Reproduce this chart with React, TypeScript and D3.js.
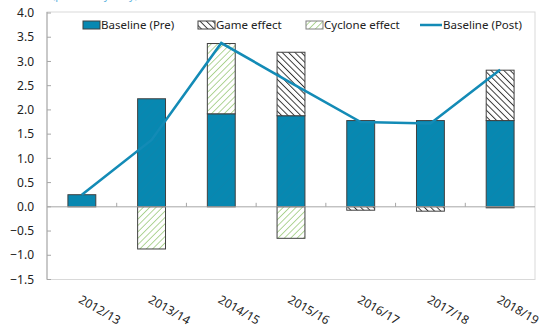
import React from "react";
import * as d3 from "d3";

const categories = ["2012/13", "2013/14", "2014/15", "2015/16", "2016/17", "2017/18", "2018/19"];
const baselinePre = [0.25, 2.23, 1.92, 1.88, 1.78, 1.78, 1.78];
const gameEffect = [0, 0, 0, 1.31, -0.07, -0.09, 1.04];
const cycloneEffect = [0, -0.87, 1.45, -0.65, 0, 0, -0.01];
const baselinePost = [0.25, 1.38, 3.38, 2.56, 1.75, 1.72, 2.83];
const yTicks = [-1.5, -1.0, -0.5, 0, 0.5, 1.0, 1.5, 2.0, 2.5, 3.0, 3.5, 4.0];

const W = 547;
const H = 327;
const left = 47;
const right = 535;
const top = 13;
const bottom = 279.5;
const FONT = "'Noto Sans', 'Open Sans', sans-serif";
const BLUE = "#0788b1";
const LINE = "#138bb6";

type Seg = { key: string; i: number; y0: number; y1: number };

export default function App() {
  const x = d3.scaleBand<string>().domain(categories).range([left, right]).paddingInner(0.6).paddingOuter(0.3);
  const xb = d3.scaleBand<string>().domain(categories).range([left, right]);
  const y = d3.scaleLinear().domain([-1.5, 4]).range([bottom, top]);

  // stack positive values upward, negative values downward
  const segs: Seg[] = [];
  categories.forEach((_, i) => {
    let pos = 0;
    let neg = 0;
    const parts: [string, number][] = [
      ["base", baselinePre[i]],
      ["game", gameEffect[i]],
      ["cyclone", cycloneEffect[i]],
    ];
    parts.forEach(([key, v]) => {
      if (v === 0) return;
      if (v > 0) {
        segs.push({ key, i, y0: pos, y1: pos + v });
        pos += v;
      } else {
        segs.push({ key, i, y0: neg, y1: neg + v });
        neg += v;
      }
    });
  });

  const fillFor = (k: string) =>
    k === "base" ? "url(#basePat)" : k === "game" ? "url(#gamePat)" : "url(#cyclonePat)";

  const line = d3
    .line<number>()
    .x((_, i) => (xb(categories[i]) as number) + xb.bandwidth() / 2)
    .y((d) => y(d));

  const legendY = 25;

  return (
    <svg width={W} height={H} style={{ position: "absolute", left: 0, top: 0 }} fontFamily={FONT}>
      <defs>
        <pattern id="basePat" patternUnits="userSpaceOnUse" width="6" height="6" patternTransform="rotate(45)">
          <rect width="6" height="6" fill={BLUE} />
          <line x1="0" y1="0" x2="0" y2="6" stroke="#1a7fa3" strokeWidth="1.5" opacity="0.3" />
        </pattern>
        <pattern id="gamePat" patternUnits="userSpaceOnUse" width="4.5" height="4.5" patternTransform="rotate(-45)">
          <rect width="4.5" height="4.5" fill="#fff" />
          <line x1="0" y1="0" x2="0" y2="4.5" stroke="#333" strokeWidth="1.9" />
        </pattern>
        <pattern id="cyclonePat" patternUnits="userSpaceOnUse" width="4.5" height="4.5" patternTransform="rotate(45)">
          <rect width="4.5" height="4.5" fill="#fff" />
          <line x1="0" y1="0" x2="0" y2="4.5" stroke="#a9d18e" strokeWidth="1.8" />
        </pattern>
      </defs>

      {/* unit caption, mostly above the visible area */}
      <text x={52} y={-1} fontSize={11} fill="#5fb4e0">(per cent, yearly)</text>

      {/* plot frame */}
      <rect x={left} y={top - 1} width={right - left} height={bottom - top + 1} fill="none" stroke="#d9d9d9" strokeWidth={1} />
      <line x1={left} x2={left} y1={top - 1} y2={bottom} stroke="#a6a6a6" />

      {/* y axis ticks and labels */}
      {yTicks.map((t) => (
        <g key={t}>
          <line x1={left} x2={left + 4} y1={y(t)} y2={y(t)} stroke="#a6a6a6" />
          <text x={34} y={y(t)} dy="0.35em" textAnchor="end" fontSize={12} fill="#222">
            {d3.format(".1f")(t)}
          </text>
        </g>
      ))}

      {/* bars */}
      {segs.map((s, j) => {
        const x0 = x(categories[s.i]) as number;
        const yt = y(Math.max(s.y0, s.y1));
        const yb = y(Math.min(s.y0, s.y1));
        return (
          <rect
            key={j}
            x={x0}
            y={yt}
            width={x.bandwidth()}
            height={Math.max(yb - yt, 1)}
            fill={fillFor(s.key)}
            stroke="#404040"
            strokeWidth={1}
          />
        );
      })}

      {/* zero axis with category ticks */}
      <line x1={left} x2={right} y1={y(0)} y2={y(0)} stroke="#a6a6a6" />
      {categories.slice(1).map((c) => (
        <line key={c} x1={xb(c)} x2={xb(c)} y1={y(0)} y2={y(0) - 4} stroke="#a6a6a6" />
      ))}

      {/* post line */}
      <path d={line(baselinePost) || ""} fill="none" stroke={LINE} strokeWidth={2.6} />

      {/* category labels */}
      {categories.map((c) => {
        const cx = (xb(c) as number) + xb.bandwidth() / 2 - 4;
        return (
          <text key={c} transform={`translate(${cx},302) rotate(30)`} fontSize={12} fill="#222">
            {c}
          </text>
        );
      })}

      {/* legend */}
      <g fontSize={11.5} fill="#222">
        <rect x={83} y={legendY - 4} width={17} height={8} fill={BLUE} stroke="#404040" />
        <text x={101} y={legendY} dy="0.35em">Baseline (Pre)</text>
        <rect x={198} y={legendY - 4} width={17} height={8} fill="url(#gamePat)" stroke="#404040" />
        <text x={216} y={legendY} dy="0.35em">Game effect</text>
        <rect x={306} y={legendY - 4} width={17} height={8} fill="url(#cyclonePat)" stroke="#808080" />
        <text x={324} y={legendY} dy="0.35em">Cyclone effect</text>
        <line x1={420} x2={442} y1={legendY} y2={legendY} stroke={LINE} strokeWidth={2.5} />
        <text x={443} y={legendY} dy="0.35em">Baseline (Post)</text>
      </g>
    </svg>
  );
}
